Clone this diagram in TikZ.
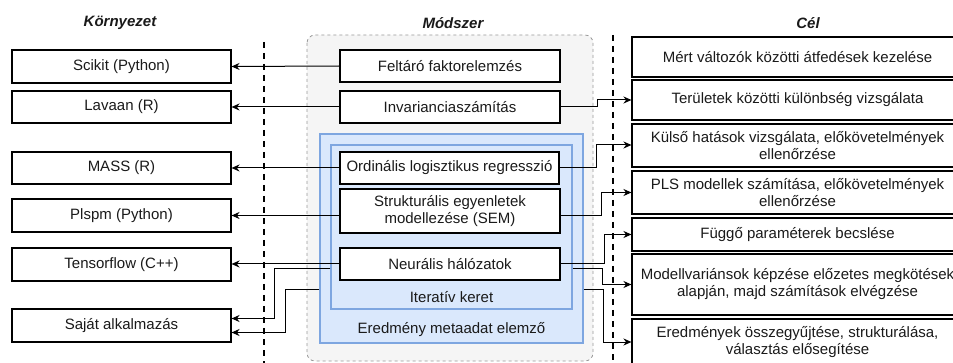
\documentclass[tikz,border=0pt]{standalone}
\usepackage{fontspec}
\setmainfont{Liberation Sans}
\usetikzlibrary{arrows.meta,calc}
\definecolor{dioblue}{HTML}{DAE8FC}
\definecolor{dioblueline}{HTML}{7EA6E0}
\definecolor{diogray}{HTML}{F5F5F5}
\definecolor{diograyline}{HTML}{999999}
\definecolor{txt}{HTML}{1A1A1A}
\begin{document}
\begin{tikzpicture}[x=1pt,y=-1pt,
  font=\fontsize{15}{17}\selectfont,
  text=txt,
  box/.style={draw=black,line width=1.1pt,fill=white,inner sep=0pt,align=center},
  lbox/.style={box,minimum width=219pt},
  mbox/.style={box,minimum width=220pt},
  rbox/.style={box,minimum width=331pt},
  ttl/.style={font=\fontsize{15}{17}\selectfont\bfseries\itshape},
  conn/.style={draw=black,line width=1pt,-{Stealth[length=8pt,width=7pt]}},
  sep/.style={draw=black,line width=2pt,dash pattern=on 6pt off 5pt},
  bluebox/.style={draw=dioblueline,fill=dioblue,line width=1.2pt}
]
\useasboundingbox (0,0) rectangle (953,363);
\clip (0,0) rectangle (953,363);
% titles
\node[ttl] (t1) at (120,23) {Környezet};
\node[ttl] (t2) at (453,23) {Módszer};
\node[ttl] (t3) at (808,23) {Cél};
% method container
\draw[draw=diograyline,dashed,fill=diogray,line width=0.8pt,rounded corners=8pt] (307,35) rectangle (593,361);
\node[bluebox,minimum width=263pt,minimum height=209pt,inner sep=0pt] (outer) at (451.5,238.5) {};
\node[bluebox,minimum width=241pt,minimum height=164pt,inner sep=0pt] (inner) at (451.5,227) {};
\node (lab1) at (451.5,297) {Iteratív keret};
\node (lab2) at (451.5,330) {Eredmény metaadat elemző};
% method boxes
\node[mbox,minimum height=32pt] (fel) at (450,66) {Feltáró faktorelemzés};
\node[mbox,minimum height=32pt] (inv) at (450,107) {Invarianciaszámítás};
\node[mbox,minimum width=219pt,minimum height=32pt] (ord) at (449.5,168) {Ordinális logisztikus regresszió};
\node[mbox,minimum height=44pt] (str) at (450,211) {Strukturális egyenletek\\modellezése (SEM)};
\node[mbox,minimum height=32pt] (neu) at (450,264) {Neurális hálózatok};
% left boxes
\node[lbox,minimum height=33pt] (sci) at (121.5,66.5) {Scikit (Python)};
\node[lbox,minimum height=32pt] (lav) at (121.5,107) {Lavaan (R)};
\node[lbox,minimum height=32pt] (mas) at (121.5,168) {MASS (R)};
\node[lbox,minimum height=33pt] (pls) at (121.5,215.5) {Plspm (Python)};
\node[lbox,minimum height=33pt] (ten) at (121.5,264.5) {Tensorflow (C++)};
\node[lbox,minimum height=33pt] (saj) at (121.5,325.5) {Saját alkalmazás};
% right boxes
\node[rbox,minimum height=40pt] (mer) at (797.5,57) {Mért változók közötti átfedések kezelése};
\node[rbox,minimum height=40pt] (ter) at (797.5,100) {Területek közötti különbség vizsgálata};
\node[rbox,minimum height=43pt] (kul) at (797.5,145.5) {Külső hatások vizsgálata, előkövetelmények\\ellenőrzése};
\node[rbox,minimum height=43pt] (plsr) at (797.5,192.5) {PLS modellek számítása, előkövetelmények\\ellenőrzése};
\node[rbox,minimum height=33pt] (fug) at (797.5,234.5) {Függő paraméterek becslése};
\node[rbox,minimum height=61pt] (mod) at (797.5,284.5) {Modellvariánsok képzése előzetes megkötések\\alapján, majd számítások elvégzése};
\node[rbox,minimum height=46pt] (ere) at (797.5,342) {Eredmények összegyűjtése, strukturálása,\\választás elősegítése};
% helper coordinates
\coordinate (yA) at (0,269);
\coordinate (yB) at (0,290);
% left connectors
\draw[conn] (fel.west) -- (sci.east);
\draw[conn] (inv.west) -- (lav.east);
\draw[conn] (ord.west) -- (mas.east);
\draw[conn] (str.west |- pls.east) -- (pls.east);
\draw[conn] (neu.west) -- (neu.west -| ten.east);
\draw[conn] (inner.west |- yA) -- ++(-56,0) |- ([yshift=7pt]saj.east);
\draw[conn] (outer.west |- yB) -- ++(-34,0) |- ([yshift=-7pt]saj.east);
% right connectors
\draw[conn] (inv.east) -- ++(37,0) |- (ter.west);
\draw[conn] (ord.east) -- ++(37,0) |- ([yshift=0.5pt]kul.west);
\draw[conn] (str.east |- pls.east) -- ++(41,0) |- (plsr.west);
\draw[conn] (neu.east) -- ++(44,0) |- (fug.west);
\draw[conn] (inner.east |- yA) -- ++(30,0) |- (mod.west);
\draw[conn] (outer.east |- yB) -- ++(20,0) |- (ere.west);
% separators
\draw[sep] (264,42) -- (264,363);
\draw[sep] (613,35) -- (613,363);
\end{tikzpicture}
\end{document}
